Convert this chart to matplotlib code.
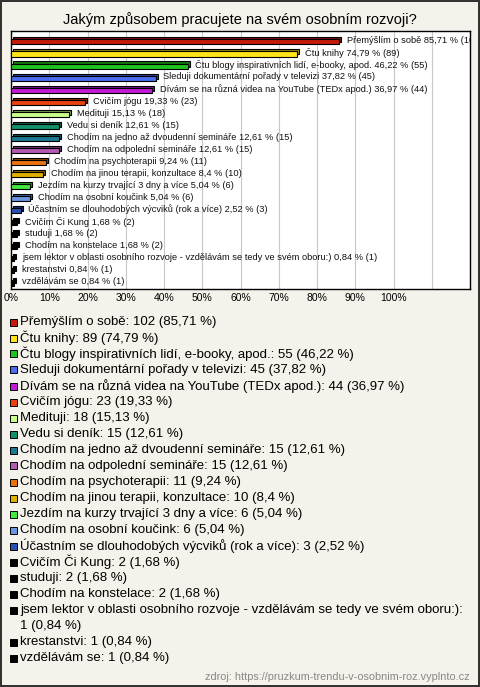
import matplotlib
matplotlib.use("Agg")
import matplotlib.pyplot as plt
import numpy as np

plt.rcParams['font.family'] = ['Liberation Sans', 'DejaVu Sans']

labels = ["Přemýšlím o sobě", "Čtu knihy",
          "Čtu blogy inspirativních lidí, e-booky, apod.",
          "Sleduji dokumentární pořady v televizi",
          "Dívám se na různá videa na YouTube (TEDx apod.)",
          "Cvičím jógu", "Medituji", "Vedu si deník",
          "Chodím na jedno až dvoudenní semináře",
          "Chodím na odpolední semináře",
          "Chodím na psychoterapii",
          "Chodím na jinou terapii, konzultace",
          "Jezdím na kurzy trvající 3 dny a více",
          "Chodím na osobní koučink",
          "Účastním se dlouhodobých výcviků (rok a více)",
          "Cvičím Či Kung", "studuji", "Chodím na konstelace",
          "jsem lektor v oblasti osobního rozvoje - vzdělávám se tedy ve svém oboru:)",
          "krestanstvi", "vzdělávám se"]
counts = [102, 89, 55, 45, 44, 23, 18, 15, 15, 15, 11, 10, 6, 6, 3, 2, 2, 2, 1, 1, 1]
pcts = ["85,71", "74,79", "46,22", "37,82", "36,97", "19,33", "15,13", "12,61",
        "12,61", "12,61", "9,24", "8,4", "5,04", "5,04", "2,52", "1,68", "1,68",
        "1,68", "0,84", "0,84", "0,84"]
colors = ["#c41a0c", "#ffe41a", "#1ec41e", "#4a6cf0", "#c21ad6", "#e8420e",
          "#c8ff8c", "#12906a", "#1e7890", "#b45ab4", "#e8720e", "#e0b000",
          "#40e840", "#6a96e0", "#2850b0", "#000000", "#000000", "#000000",
          "#000000", "#000000", "#000000"]
total = 119

vals = np.array(counts) / total * 100
y = np.arange(len(labels))

fig = plt.figure(figsize=(4.8, 6.87), dpi=100)
bg = "#f4f2ea"
fig.patch.set_facecolor(bg)
fig.patch.set_edgecolor("#333333")
fig.patch.set_linewidth(1.5)

ax = fig.add_axes([11/480, 1 - 289/687, 459/480, 258/687])
ax.set_facecolor("white")

def darker(c, f=0.6):
    rgb = np.array(matplotlib.colors.to_rgb(c))
    return tuple(rgb * f)

h = 0.42
dx, dy = 0.5, 0.17
# depth face
ax.barh(y - dy, vals, left=dx, height=h, color=[darker(c) for c in colors],
        edgecolor="black", linewidth=0.8, zorder=2)
ax.barh(y, vals, height=h, color=colors, edgecolor="black", linewidth=0.8, zorder=3)

for i in range(len(labels)):
    ax.text(vals[i] + 2.0, y[i] - 0.1, f"{labels[i]} {pcts[i]} % ({counts[i]})",
            fontsize=6.7, va="center", ha="left", color="#111111", clip_on=True, zorder=4)

ax.set_xlim(0, 120)
ax.set_ylim(len(labels) - 1 + 0.5, -0.91)
ax.set_xticks(np.arange(0, 121, 10))
ax.set_xticklabels([f"{t}%" if t <= 100 else "" for t in range(0, 121, 10)], fontsize=7.5)
ax.tick_params(axis="x", length=0, pad=3)
ax.set_yticks([])
ax.grid(axis="x", color="#c8c8c8", linewidth=0.8, zorder=0)
ax.set_axisbelow(True)
for s in ax.spines.values():
    s.set_color("black")
    s.set_linewidth(1)

fig.text(0.5, 1 - 20/687, "Jakým způsobem pracujete na svém osobním rozvoji?",
         ha="center", va="center", fontsize=10.5)

# legend
fs = 9.5
ly = 322
for i in range(len(labels)):
    yy = 1 - ly / 687
    fig.patches.append(matplotlib.patches.Rectangle(
        (10/480, yy - 3.5/687), 7/480, 7/687, transform=fig.transFigure,
        facecolor=colors[i], edgecolor="black", linewidth=0.7))
    txt = f"{labels[i]}: {counts[i]} ({pcts[i]} %)"
    if i == 18:
        fig.text(20/480, yy, f"{labels[i]}:", fontsize=fs, va="center", ha="left")
        ly += 16
        fig.text(20/480, 1 - ly/687, f"{counts[i]} ({pcts[i]} %)", fontsize=fs,
                 va="center", ha="left")
    else:
        fig.text(20/480, yy, txt, fontsize=fs, va="center", ha="left")
    ly += 16

fig.text(470/480, 1 - 677/687, "zdroj: https://pruzkum-trendu-v-osobnim-roz.vyplnto.cz",
         ha="right", va="center", fontsize=7.8, color="#888888")

fig.savefig("out.png", dpi=100, facecolor=fig.get_facecolor(), edgecolor=fig.get_edgecolor())
